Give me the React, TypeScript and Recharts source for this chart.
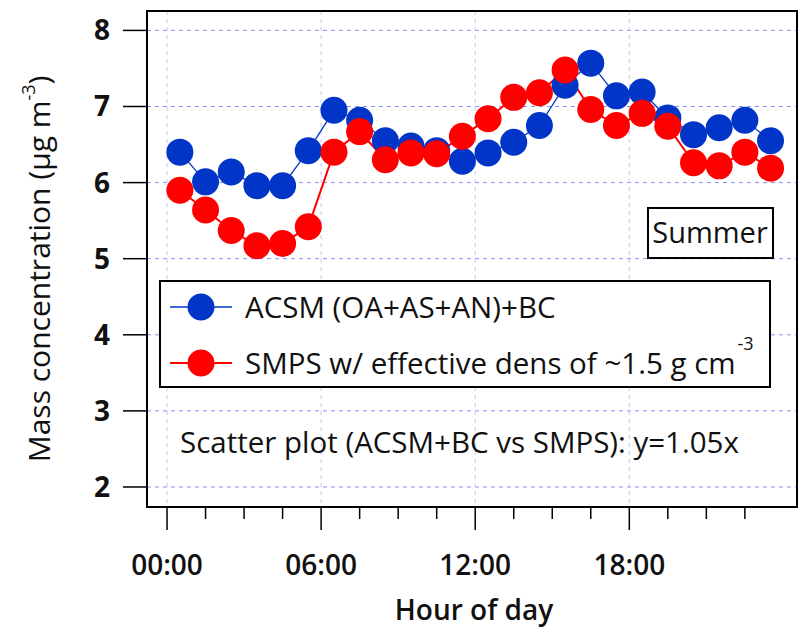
import React from "react";
import {
  CartesianGrid,
  Line,
  LineChart,
  ReferenceArea,
  XAxis,
  YAxis,
} from "recharts";

// hour of day (bin centres)
const hours = [
  0.5, 1.5, 2.5, 3.5, 4.5, 5.5, 6.5, 7.5, 8.5, 9.5, 10.5, 11.5,
  12.5, 13.5, 14.5, 15.5, 16.5, 17.5, 18.5, 19.5, 20.5, 21.5, 22.5, 23.5,
];
// ACSM (OA+AS+AN)+BC, ug m-3
const acsm = [
  6.4, 6.01, 6.14, 5.96, 5.96, 6.42, 6.95, 6.82, 6.55, 6.48, 6.42, 6.28,
  6.39, 6.53, 6.75, 7.28, 7.57, 7.14, 7.19, 6.85, 6.63, 6.72, 6.82, 6.55,
];
// SMPS with effective density ~1.5 g cm-3
const smps = [
  5.9, 5.64, 5.37, 5.17, 5.2, 5.42, 6.4, 6.67, 6.3, 6.39, 6.38, 6.61,
  6.84, 7.12, 7.18, 7.48, 6.96, 6.75, 6.91, 6.74, 6.26, 6.22, 6.4, 6.19,
];

const xTicks = [0, 1.5, 3, 4.5, 6, 7.5, 9, 10.5, 12, 13.5, 15, 16.5, 18, 19.5, 21, 22.5];
const majorHours = [0, 6, 12, 18];
const majorLabels = ["00:00", "06:00", "12:00", "18:00"];
const yTicks = [2, 3, 4, 5, 6, 7, 8];

const xDomain = [-0.78, 24.53];
const yDomain = [1.737, 8.255];

const BLUE = "#0035c8";
const RED = "#ff0000";
const FONT = "'Open Sans', sans-serif";

const series = [
  { key: "acsm", name: "ACSM (OA+AS+AN)+BC", sup: "", color: BLUE, width: 1.3 },
  { key: "smps", name: "SMPS w/ effective dens of ~1.5 g cm", sup: "-3", color: RED, width: 2 },
];

const data = hours.map((h, i) => ({ hour: h, acsm: acsm[i], smps: smps[i] }));

function HourTick(props: any) {
  const { x, y, payload } = props;
  const idx = majorHours.indexOf(payload.value);
  const major = idx >= 0;
  return (
    <g>
      <line x1={x} x2={x} y1={y} y2={y + (major ? 23 : 12)} stroke="#000" strokeWidth={1.5} />
      {major && (
        <text x={x} y={y + 68} textAnchor="middle" fontFamily={FONT} fontWeight={600} fontSize={28} fill="#111">
          {majorLabels[idx]}
        </text>
      )}
    </g>
  );
}

export default function App() {
  return (
    <div style={{ position: "absolute", left: 0, top: 0, width: 798, height: 630, background: "#fff" }}>
      <LineChart width={798} height={630} data={data} margin={{ top: 11, right: 1, bottom: 0, left: 0 }}>
        <CartesianGrid vertical={false} stroke="#8c8cf2" strokeDasharray="4 4" />
        <CartesianGrid horizontal={false} verticalValues={majorHours} stroke="#c5c5ff" strokeDasharray="4 4" />
        <XAxis
          dataKey="hour"
          type="number"
          domain={xDomain}
          allowDataOverflow
          ticks={xTicks}
          interval={0}
          height={123}
          axisLine={false}
          tickLine={false}
          tickSize={0}
          tickMargin={0}
          tick={<HourTick />}
        />
        <YAxis
          type="number"
          domain={yDomain}
          allowDataOverflow
          ticks={yTicks}
          interval={0}
          width={147}
          axisLine={false}
          tickSize={24}
          tickMargin={13}
          tickLine={{ stroke: "#000", strokeWidth: 1.5 }}
          tick={{ fontFamily: FONT, fontWeight: 700, fontSize: 28, fill: "#111" }}
        />
        {series.map((s) => (
          <Line
            key={s.key}
            type="linear"
            dataKey={s.key}
            name={s.name}
            stroke={s.color}
            strokeWidth={s.width}
            dot={{ r: 13.5, fill: s.color, stroke: s.color, strokeWidth: 0 }}
            activeDot={false}
            isAnimationActive={false}
          />
        ))}
        <ReferenceArea
          x1={xDomain[0]}
          x2={xDomain[1]}
          y1={yDomain[0]}
          y2={yDomain[1]}
          fill="none"
          stroke="#000"
          strokeWidth={2}
          ifOverflow="visible"
        />
      </LineChart>
      <svg width={798} height={630} style={{ position: "absolute", left: 0, top: 0, pointerEvents: "none" }}>
        <g fontFamily={FONT} fill="#111">
          <text transform="translate(50,269) rotate(-90)" textAnchor="middle" fontSize={30}>
            Mass concentration (μg m
            <tspan dy={-15} fontSize={18}>-3</tspan>
            <tspan dy={15} dx={-8}> )</tspan>
          </text>
          <text x={474} y={620} textAnchor="middle" fontSize={28} fontWeight={600}>
            Hour of day
          </text>

          <rect x={648} y={208} width={125} height={50} fill="#fff" stroke="#000" strokeWidth={2} />
          <text x={710} y={243} textAnchor="middle" fontSize={29}>
            Summer
          </text>

          <rect x={160} y={281} width={610} height={106} fill="#fff" stroke="#000" strokeWidth={2} />
          {series.map((s, i) => {
            const cy = 307 + i * 56;
            return (
              <g key={s.key}>
                <line x1={170} x2={232} y1={cy} y2={cy} stroke={s.color} strokeWidth={s.width} />
                <circle cx={201} cy={cy} r={13.5} fill={s.color} />
                <text x={245} y={cy + 10.5} fontSize={29.5}>
                  {s.name}
                  {s.sup && (
                    <tspan dy={-24} dx={2} fontSize={18}>
                      {s.sup}
                    </tspan>
                  )}
                </text>
              </g>
            );
          })}

          <text x={180} y={453} fontSize={29.5}>
            Scatter plot (ACSM+BC vs SMPS): y=1.05x
          </text>
        </g>
      </svg>
    </div>
  );
}
